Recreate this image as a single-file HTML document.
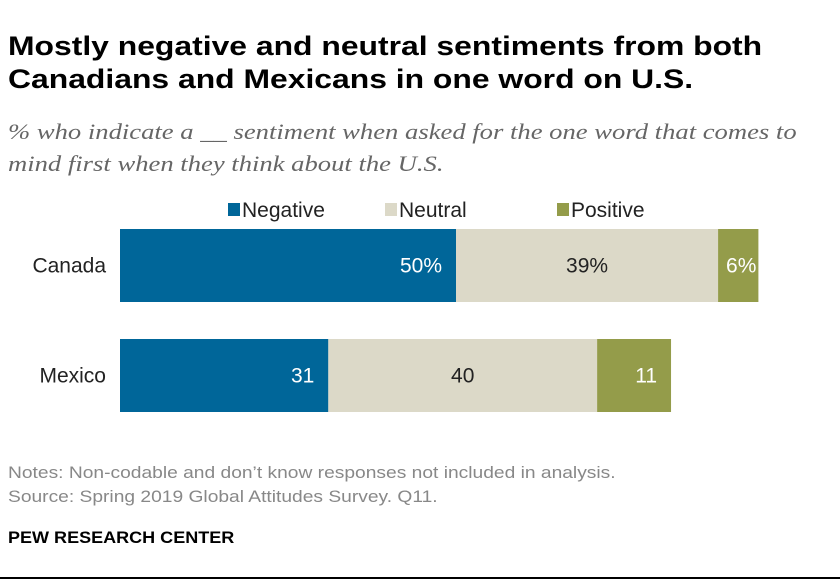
<!DOCTYPE html>
<html><head><meta charset="utf-8"><style>
body{margin:0;width:840px;height:584px;background:#fff;font-family:"Liberation Sans",sans-serif;position:relative;overflow:hidden}
.a{position:absolute;white-space:nowrap;transform-origin:0 0}
</style></head><body>
<div class="a" style="left:8px;top:30px;font-size:27px;font-weight:bold;line-height:33px;color:#000;transform:scaleX(1.18)">Mostly negative and neutral sentiments from both<br>Canadians and Mexicans in one word on U.S.</div>
<div class="a" style="left:8px;top:116px;font-family:'Liberation Serif',serif;font-style:italic;font-size:22px;line-height:32px;color:#666;transform:scaleX(1.21)">% who indicate a __ sentiment when asked for the one word that comes to<br>mind first when they think about the U.S.</div>
<svg class="a" style="left:0;top:0" width="840" height="584" id="chart"></svg>
<div class="a" style="left:8px;top:461px;font-size:17px;line-height:24px;color:#888;transform:scaleX(1.13)">Notes: Non-codable and don’t know responses not included in analysis.<br>Source: Spring 2019 Global Attitudes Survey. Q11.</div>
<div class="a" style="left:8px;top:528px;font-size:17px;font-weight:bold;color:#000;transform:scaleX(1.06)">PEW RESEARCH CENTER</div>
<div class="a" style="left:0;top:577px;width:840px;height:2px;background:#000"></div>
<script>
const categories=["Canada","Mexico"];
const seriesNames=["Negative","Neutral","Positive"];
const negative=[50,31];
const neutral=[39,40];
const positive=[6,11];
const labels=[["50%","39%","6%"],["31","40","11"]];
const colors=["#006699","#dcd9c8","#949c4a"];
const textColors=["#fff","#222","#fff"];
const NS="http://www.w3.org/2000/svg";
const svg=document.getElementById("chart");
const x0=120,scale=6.72;
const xs=v=>v*scale;
const rowTop=[229,339],barH=73;
const FS=21;
function mk(t,a){const e=document.createElementNS(NS,t);for(const k in a)e.setAttribute(k,a[k]);svg.appendChild(e);return e;}
const legX=[228,385,557];
seriesNames.forEach((n,i)=>{
 const r=mk("rect",{x:legX[i],y:203,width:12,height:13,fill:colors[i]});
 
 
 const t=mk("text",{x:legX[i]+14,y:217,"font-size":FS,fill:"#222"});t.textContent=n;
 
 
});
categories.forEach((c,ci)=>{
 const vals=[negative[ci],neutral[ci],positive[ci]];
 const y=rowTop[ci];
 const t=mk("text",{x:106,y:y+barH/2+7,"font-size":FS,fill:"#222","text-anchor":"end"});t.textContent=c;
 
 
 let acc=0;
 vals.forEach((v,si)=>{
  const x=x0+xs(acc),w=xs(v);
  const r=mk("rect",{x:x,y:y,width:w,height:barH,fill:colors[si]});
  
  
  let lx,anchor;
  if(si===1){lx=x+w/2;anchor="middle";}else{lx=x+w-(si===2&&v<8?2:14);anchor="end";}
  const l=mk("text",{x:lx,y:y+barH/2+7,"font-size":FS,fill:textColors[si],"text-anchor":anchor});
  l.textContent=labels[ci][si];
  
  
  acc+=v;
 });
});
</script>
</body></html>
